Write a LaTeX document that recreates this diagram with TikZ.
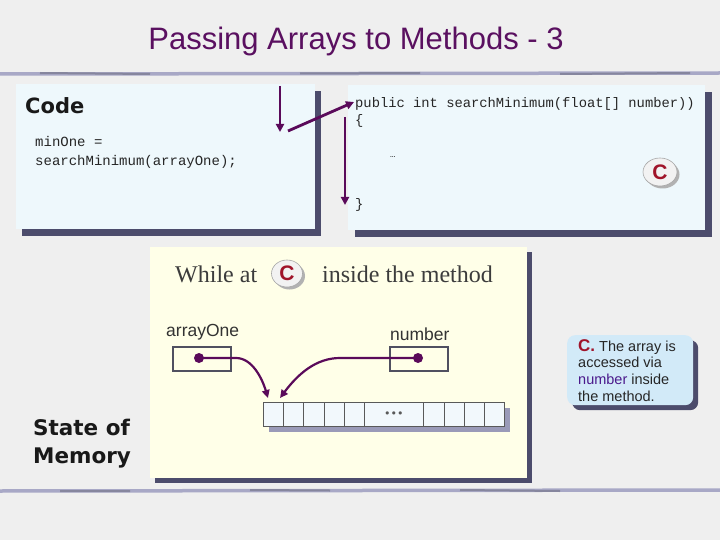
\documentclass[tikz,border=0pt]{standalone}
\usepackage{fontspec}
\setmainfont{Liberation Serif}
\setsansfont{Liberation Sans}
\setmonofont{Liberation Mono}
\newfontfamily\djv{DejaVu Sans}
\usetikzlibrary{arrows.meta,shapes.geometric,shadows,calc}
\definecolor{bgc}{HTML}{EFEFEF}
\definecolor{ttl}{HTML}{5A1060}
\definecolor{codefill}{HTML}{EEF8FC}
\definecolor{shad}{HTML}{4C4C6C}
\definecolor{memfill}{HTML}{FFFFE8}
\definecolor{arr}{HTML}{5A0A5A}
\definecolor{cred}{HTML}{A0142A}
\definecolor{cellfill}{HTML}{F2F8FC}
\definecolor{cellshad}{HTML}{9A9AB8}
\definecolor{callfill}{HTML}{D2EAF8}
\definecolor{rulec}{HTML}{A8A8C6}
\definecolor{txtgray}{HTML}{3C3C3C}
\definecolor{numc}{HTML}{4B1A8C}
\definecolor{boxline}{HTML}{505060}
\tikzset{
  panel/.style={fill=#1, inner sep=0, anchor=north west},
  codetxt/.style={anchor=base west, inner sep=0, font=\ttfamily\fontsize{14}{16}\selectfont, text=black!85},
  sigtxt/.style={anchor=base west, inner sep=0, font=\ttfamily\fontsize{13.8}{16}\selectfont, text=black!85},
  cbadge/.style={ellipse, fill=white!95!black, draw=gray!70, line width=0.6pt, inner sep=0,
     text=cred, font=\sffamily\bfseries\fontsize{21}{21}\selectfont,
     drop shadow={shadow xshift=2.5pt, shadow yshift=-2.5pt, fill=gray!60, opacity=1}},
  codearrow/.style={draw=arr, line width=2.8pt, -{Triangle[length=8pt,width=8pt]}},
  memarrow/.style={draw=arr, line width=2.2pt, -{Triangle[length=8pt,width=7.5pt]}},
  cellbox/.style={draw=gray!70!black, fill=cellfill, line width=0.8pt, minimum height=24pt, inner sep=0, anchor=north west},
  refbox/.style={draw=boxline, line width=2pt, minimum width=58pt, minimum height=24pt, inner sep=0},
  dotn/.style={circle, fill=arr, minimum size=10pt, inner sep=0},
  lbl/.style={anchor=base west, inner sep=0, font=\sffamily\fontsize{17.5}{20}\selectfont, text=black!80},
}
\begin{document}
\begin{tikzpicture}[x=1pt,y=-1pt]
\fill[bgc] (0,0) rectangle (720,540);
\useasboundingbox (0,0) rectangle (720,540);
% rules
\draw[rulec, line width=3.5pt] (0,74) -- (720,73);
\draw[rulec!80!black, line width=2pt] (40,73) -- (150,74) (300,73.5) -- (420,73) (560,74) -- (690,73);
\draw[rulec, line width=3.5pt] (0,491) -- (720,490);
\draw[rulec!80!black, line width=2pt] (60,491) -- (130,491) (250,490) -- (330,490.5) (460,490) -- (560,491);
% title
\node[anchor=base, inner sep=0, text=ttl, font=\sffamily\fontsize{31}{34}\selectfont] (title) at (356,50) {Passing Arrays to Methods - 3};
% code box
\node[panel=codefill, minimum width=299pt, minimum height=145pt,
  drop shadow={shadow xshift=6pt, shadow yshift=-7pt, fill=shad, opacity=1}] (codebox) at (16,84) {};
\node[anchor=base west, inner sep=0, font=\djv\bfseries\fontsize{21}{24}\selectfont, text=black!90] (codelbl) at (25,114) {Code};
\node[codetxt] (call1) at (35,147) {minOne =};
\node[codetxt] (call2) at (35,166) {searchMinimum(arrayOne);};
% method box
\node[panel=codefill, minimum width=357pt, minimum height=145pt,
  drop shadow={shadow xshift=7pt, shadow yshift=-7pt, fill=shad, opacity=1}] (methbox) at (348,85) {};
\node[sigtxt] (sig) at (355,108) {public int searchMinimum(float[] number))};
\node[sigtxt] (ob) at (355,125) {\{};
\node[sigtxt, font=\ttfamily\fontsize{9}{10}\selectfont] (dots) at (390,158) {…};
\node[sigtxt] (cb) at (355,208) {\}};
\node[cbadge, minimum width=34pt, minimum height=28pt] (c1) at (660,172) {C};
% code arrows
\coordinate (a1s) at (280,86);
\coordinate (a1e) at (280,132);
\coordinate (a2s) at (288,131);
\coordinate (a2e) at (354,102);
\coordinate (a3s) at (345,117);
\coordinate (a3e) at (345,205);
\draw[codearrow] (a1s) -- (a1e);
\draw[codearrow] (a2s) -- (a2e);
\draw[codearrow] (a3s) -- (a3e);
% memory panel
\node[panel=memfill, minimum width=377pt, minimum height=231pt,
  drop shadow={shadow xshift=5pt, shadow yshift=-5pt, fill=shad, opacity=1}] (membox) at (150,247) {};
\node[anchor=base west, inner sep=0, font=\rmfamily\fontsize{24}{26}\selectfont, text=txtgray] (while) at (175,282) {While at};
\node[cbadge, minimum width=31pt, minimum height=27pt] (c2) at (287,273.5) {C};
\node[anchor=base west, inner sep=0, font=\rmfamily\fontsize{24}{26}\selectfont, text=txtgray] (inside) at (322,282) {inside the method};
\node[lbl] (lblA) at (166,336) {arrayOne};
\node[lbl] (lblB) at (390,340) {number};
\node[refbox] (boxA) at (202,359) {};
\node[refbox] (boxB) at (418.5,359) {};
\node[dotn] (dotA) at (199,358) {};
\node[dotn] (dotB) at (418,358) {};
% array
\fill[cellshad] (269,408) rectangle (510,432);
\foreach \i/\x/\w in {1/263/20,2/283/20,3/303/20.5,4/323.5/20.5,5/344/20,7/423/21,8/444/20,9/464/20,10/484/20}
  \node[cellbox, minimum width=\w pt] (cell\i) at (\x,402) {};
\node[cellbox, minimum width=59pt, text=gray!70!black, font=\djv\fontsize{11}{11}\selectfont] (cell6) at (364,402) {•••};
\coordinate (tipA) at (268,398);
\coordinate (tipB) at (280,398);
\draw[memarrow] (dotA.center) -- (236,358) .. controls (252,358) and (262,378) .. (tipA);
\draw[memarrow] (dotB.center) -- (340,358) .. controls (316,358) and (298,374) .. (tipB);
% state of memory
\node[anchor=north west, inner sep=0, align=left, font=\djv\bfseries\fontsize{21.5}{28}\selectfont, text=black!90] (state) at (33,419) {State of\\Memory};
% callout
\node[panel=callfill, minimum width=126pt, minimum height=70pt, rounded corners=8pt,
  drop shadow={shadow xshift=5pt, shadow yshift=-5pt, fill=shad, opacity=1}] (note) at (567,335) {};
\node[anchor=north west, inner sep=0, align=left, font=\sffamily\fontsize{14.5}{16.8}\selectfont, text=black!85] (notetxt) at (578,339) {{\color{cred}\bfseries\fontsize{17}{17}\selectfont C.} The array is\\accessed via\\{\color{numc}number} inside\\the method.};
\end{tikzpicture}
\end{document}
